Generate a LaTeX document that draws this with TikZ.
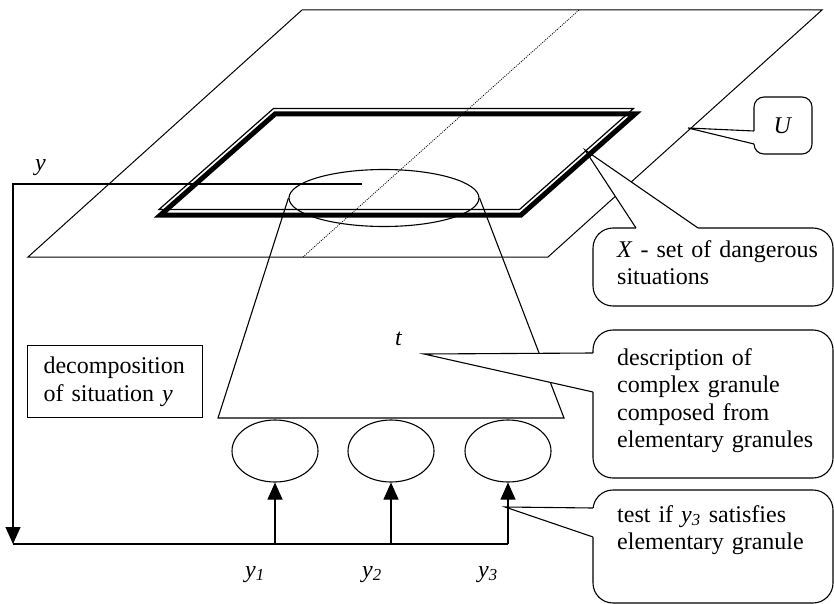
\documentclass[tikz,border=0pt]{standalone}
\usepackage{fontspec}
\setmainfont{Liberation Serif}
\usetikzlibrary{shapes.geometric, arrows.meta, positioning, calc}

\begin{document}
\begin{tikzpicture}[
    x=1pt, y=-1pt,
    font=\fontsize{24}{27.5}\selectfont,
    plane/.style={draw, line width=1pt, line join=miter},
    feed/.style={line width=1.1pt},
    granule/.style={ellipse, draw, line width=1.1pt, minimum width=86pt, minimum height=62pt, inner sep=0pt},
    callbox/.style={rectangle, draw, fill=white, line width=1.1pt, rounded corners=20pt, outer sep=0pt, anchor=north west},
    calltext/.style={anchor=base west, inner sep=0pt, text width=212pt, align=left},
    lbl/.style={anchor=base west, inner sep=0pt},
    arrow/.style={-{Triangle[length=17pt, width=15pt]}, line width=1.1pt}
]
\useasboundingbox (0,0) rectangle (834,604);
% ---------------- universe U ----------------
\draw[plane] (302,10) -- (822,10) -- (548,257) -- (28,257) -- cycle;
\draw[line width=0.8pt, dash pattern=on 1pt off 1.2pt] (579,10) -- (303,257);
% ---------------- complex granule ----------------
\node[granule, minimum width=190pt, minimum height=57pt] (top) at (384,198) {};
\coordinate (tbl) at (218,418);
\coordinate (tbr) at (564,418);
\draw[feed] (top.west) -- (tbl) -- (tbr) -- (top.east);
\node[lbl] (tlabel) at (395,345) {\textit{t}};
% elementary granules
\node[granule] (g1) at (275,451) {};
\node[granule] (g2) at (391,451) {};
\node[granule] (g3) at (508,451) {};
% ---------------- feedback of y ----------------
\coordinate (yend) at (362,184);
\coordinate (ycorner) at (13,184);
\coordinate (bus) at (13,544);
\draw[arrow] (yend) -- (ycorner) -- (bus);
\draw[feed] (bus) -- (g3 |- bus);
\foreach \g in {g1,g2,g3}
    \draw[arrow] (\g |- bus) -- (\g.south);
\node[lbl] (ylabel) at (35,171) {\textit{y}};
\foreach \i/\x in {1/245,2/362,3/478}
    \node[lbl] (ylab\i) at (\x,577) {\textit{y}\textsubscript{\textit{\i}}};
\node[draw, line width=1.1pt, anchor=north west, minimum width=175pt, minimum height=72pt,
      text width=143pt, inner xsep=16pt, align=left] (decomp) at (27,345) {decomposition\\of situation \textit{y}};
% ---------------- callouts ----------------
\node[callbox, minimum width=58pt, minimum height=57pt, rounded corners=10pt] (ucall) at (754,97) {\textit{U}};
\coordinate (utip) at (688,128);
\fill[white] ($(ucall.north west)+(3,34)$) -- ($(ucall.north west)+(0,34)$) -- (utip) -- ($(ucall.north west)+(0,47)$) -- ($(ucall.north west)+(3,47)$) -- cycle;
\draw[feed] ($(ucall.north west)+(0,34)$) -- (utip) -- ($(ucall.north west)+(0,47)$);

\node[callbox, minimum width=240pt, minimum height=78pt] (xcall) at (593,228) {};
\node[calltext] (xtext) at ($(xcall.north west)+(24,29)$) {\textit{X} - set of dangerous\\situations};
\coordinate (xtip) at (585,150);
\fill[white] ($(xcall.north west)+(43,3)$) -- ($(xcall.north west)+(43,0)$) -- (xtip) -- ($(xcall.north west)+(105,0)$) -- ($(xcall.north west)+(105,3)$) -- cycle;
\draw[feed] ($(xcall.north west)+(43,0)$) -- (xtip) -- ($(xcall.north west)+(105,0)$);

\node[callbox, minimum width=240pt, minimum height=148pt] (dcall) at (593,330) {};
\node[calltext] (dtext) at ($(dcall.north west)+(24,35)$) {description of\\complex granule\\composed from\\elementary granules};
\coordinate (dtip) at (424,354);
\fill[white] ($(dcall.north west)+(3,23)$) -- ($(dcall.north west)+(0,23)$) -- (dtip) -- ($(dcall.north west)+(0,62)$) -- ($(dcall.north west)+(3,62)$) -- cycle;
\draw[feed] ($(dcall.north west)+(0,23)$) -- (dtip) -- ($(dcall.north west)+(0,62)$);

\node[callbox, minimum width=240pt, minimum height=113pt] (tcall) at (593,490) {};
\node[calltext] (ttext) at ($(tcall.north west)+(24,32)$) {test if \textit{y}\textsubscript{\textit{3}} satisfies\\elementary granule};
\coordinate (ttip) at (505,507);
\fill[white] ($(tcall.north west)+(3,18)$) -- ($(tcall.north west)+(0,18)$) -- (ttip) -- ($(tcall.north west)+(0,47)$) -- ($(tcall.north west)+(3,47)$) -- cycle;
\draw[feed] ($(tcall.north west)+(0,18)$) -- (ttip) -- ($(tcall.north west)+(0,47)$);
% ---------------- dangerous situations X ----------------
\draw[line width=5pt, line join=miter] (275,114) -- (635,114) -- (521,215) -- (160.5,215) -- cycle;
\draw[line width=1.2pt, line join=miter, shift={(-1.5,-5.5)}] (275,114) -- (635,114) -- (521,215) -- (160.5,215) -- cycle;
\end{tikzpicture}
\end{document}
